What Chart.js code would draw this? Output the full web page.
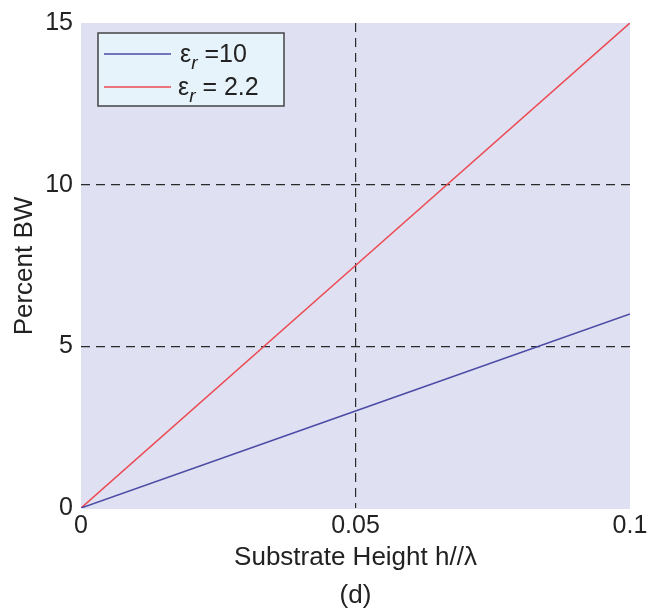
<!DOCTYPE html>
<html>
<head>
<meta charset="utf-8">
<script src="https://cdn.jsdelivr.net/npm/chart.js@4/dist/chart.umd.min.js"></script>
<style>
  html, body { margin: 0; padding: 0; background: #ffffff; }
  #wrap { width: 651px; height: 613px; }
</style>
</head>
<body>
<div id="wrap"><canvas id="c" width="651" height="613"></canvas></div>
<script>
// Substrate height (h/λ) and percent bandwidth for two permittivities
const heights = [0, 0.05, 0.1];
const bwEr10 = [0, 3, 6];
const bwEr22 = [0, 7.5, 15];
const xTickLabels = ['0', '0.05', '0.1'];
const yTickLabels = ['0', '5', '10', '15'];
const seriesNames = [{ sub: 'r', rest: ' =10' }, { sub: 'r', rest: ' = 2.2' }];

const FONT = '"Liberation Sans", Arial, Helvetica, sans-serif';
const BLUE = '#4b4ba6';
const RED = '#ec4a52';

const toPoints = (ys) => heights.map((x, i) => ({ x, y: ys[i] }));

// Axes background, axis titles, caption and boxed legend
const decor = {
  id: 'decor',
  beforeDraw(chart) {
    const { ctx, chartArea: a } = chart;
    ctx.save();
    ctx.fillStyle = '#dfe1f2';
    ctx.fillRect(a.left, a.top, a.right - a.left, a.bottom - a.top + 1);
    ctx.restore();
  },
  afterDraw(chart) {
    const { ctx, chartArea: a } = chart;
    ctx.save();
    ctx.fillStyle = '#222';
    ctx.font = '26px ' + FONT;
    ctx.textAlign = 'center';
    ctx.textBaseline = 'middle';
    ctx.fillText('Substrate Height h//\u03bb', (a.left + a.right) / 2, 558);
    ctx.fillText('(d)', (a.left + a.right) / 2, 596);
    ctx.translate(25, 266);
    ctx.rotate(-Math.PI / 2);
    ctx.fillText('Percent BW', 0, 0);
    ctx.restore();

    // legend box
    ctx.save();
    const bx = 98, by = 33, bw = 186, bh = 73;
    ctx.fillStyle = '#e7f3fb';
    ctx.fillRect(bx, by, bw, bh);
    ctx.strokeStyle = '#444';
    ctx.lineWidth = 1.5;
    ctx.strokeRect(bx, by, bw, bh);
    const rows = [
      { y: 54, color: BLUE, name: seriesNames[0], tx: 180 },
      { y: 87, color: RED, name: seriesNames[1], tx: 178 }
    ];
    rows.forEach(r => {
      ctx.strokeStyle = r.color;
      ctx.lineWidth = 1.5;
      ctx.beginPath();
      ctx.moveTo(104, r.y);
      ctx.lineTo(171, r.y);
      ctx.stroke();
      ctx.fillStyle = '#222';
      ctx.textBaseline = 'alphabetic';
      ctx.textAlign = 'left';
      ctx.font = '25px ' + FONT;
      const base = r.y + 8;
      ctx.fillText('\u03b5', r.tx, base);
      let x = r.tx + ctx.measureText('\u03b5').width;
      ctx.font = 'italic 19px ' + FONT;
      ctx.fillText(r.name.sub, x, base + 7);
      x += ctx.measureText(r.name.sub).width;
      ctx.font = '25px ' + FONT;
      ctx.fillText(r.name.rest, x, base);
    });
    ctx.restore();
  }
};

new Chart(document.getElementById('c'), {
  type: 'line',
  data: {
    datasets: [
      { label: 'er10', data: toPoints(bwEr10), borderColor: BLUE, borderWidth: 1.6, pointRadius: 0, tension: 0 },
      { label: 'er22', data: toPoints(bwEr22), borderColor: RED, borderWidth: 1.6, pointRadius: 0, tension: 0 }
    ]
  },
  options: {
    responsive: false,
    animation: false,
    layout: { padding: { left: 0, right: 21, top: 21, bottom: 0 } },
    plugins: { legend: { display: false }, tooltip: { enabled: false } },
    scales: {
      x: {
        type: 'linear', min: 0, max: 0.1,
        afterFit: (s) => { s.height = 105; },
        grid: {
          drawTicks: false,
          color: (c) => (c.tick && Math.abs(c.tick.value - 0.05) < 1e-9) ? '#2a2a2a' : 'rgba(0,0,0,0)',
          lineWidth: 1.2
        },
        border: { display: false, dash: [9, 6] },
        ticks: {
          stepSize: 0.05, padding: 3, color: '#222', maxRotation: 0,
          font: { family: FONT, size: 25 },
          callback: (v, i) => xTickLabels[i]
        }
      },
      y: {
        type: 'linear', min: 0, max: 15,
        afterFit: (s) => { s.width = 81; },
        grid: {
          drawTicks: false,
          color: (c) => (c.tick && (c.tick.value === 5 || c.tick.value === 10)) ? '#2a2a2a' : 'rgba(0,0,0,0)',
          lineWidth: 1.2
        },
        border: { display: false, dash: [9, 6] },
        ticks: {
          stepSize: 5, padding: 8, color: '#222',
          font: { family: FONT, size: 25 },
          callback: (v, i) => yTickLabels[i]
        }
      }
    }
  },
  plugins: [decor]
});
</script>
</body>
</html>
